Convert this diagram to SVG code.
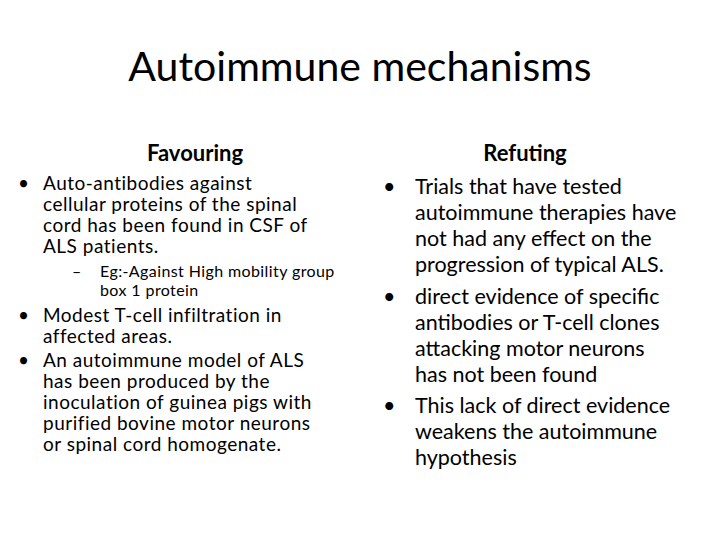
<svg xmlns="http://www.w3.org/2000/svg" width="720" height="540" viewBox="0 0 720 540">
<style>
text{font-family:Lato,"Liberation Sans",sans-serif;fill:#000}
.t{font-size:41px}
.h{font-size:22px;font-weight:bold}
.l{font-size:19px;letter-spacing:0.5px}
.s{font-size:16px;letter-spacing:0.4px}
.r{font-size:21.5px}
</style>
<rect width="720" height="540" fill="#fff"/>
<text class="t" x="360" y="81" text-anchor="middle">Autoimmune mechanisms</text>
<text class="h" x="195" y="161" text-anchor="middle">Favouring</text>
<text class="h" x="525" y="161" text-anchor="middle">Refuting</text>
<g class="l">
<text x="18" y="190">•</text>
<text x="43" y="190">Auto-antibodies against</text>
<text x="43" y="211">cellular proteins of the spinal</text>
<text x="43" y="232">cord has been found in CSF of</text>
<text x="43" y="253">ALS patients.</text>
<text x="18" y="322">•</text>
<text x="43" y="322">Modest T-cell infiltration in</text>
<text x="43" y="343">affected areas.</text>
<text x="18" y="367">•</text>
<text x="43" y="367">An autoimmune model of ALS</text>
<text x="43" y="388">has been produced by the</text>
<text x="43" y="409">inoculation of guinea pigs with</text>
<text x="43" y="430">purified bovine motor neurons</text>
<text x="43" y="451">or spinal cord homogenate.</text>
</g>
<g class="s">
<text x="72" y="277">–</text>
<text x="100" y="277">Eg:-Against High mobility group</text>
<text x="100" y="296">box 1 protein</text>
</g>
<g class="r">
<text x="383" y="194">•</text>
<text x="415" y="194">Trials that have tested</text>
<text x="415" y="220">autoimmune therapies have</text>
<text x="415" y="246">not had any effect on the</text>
<text x="415" y="272">progression of typical ALS.</text>
<text x="383" y="304">•</text>
<text x="415" y="304">direct evidence of specific</text>
<text x="415" y="330">antibodies or T-cell clones</text>
<text x="415" y="356">attacking motor neurons</text>
<text x="415" y="382">has not been found</text>
<text x="383" y="413">•</text>
<text x="415" y="413">This lack of direct evidence</text>
<text x="415" y="439">weakens the autoimmune</text>
<text x="415" y="465">hypothesis</text>
</g>
</svg>
